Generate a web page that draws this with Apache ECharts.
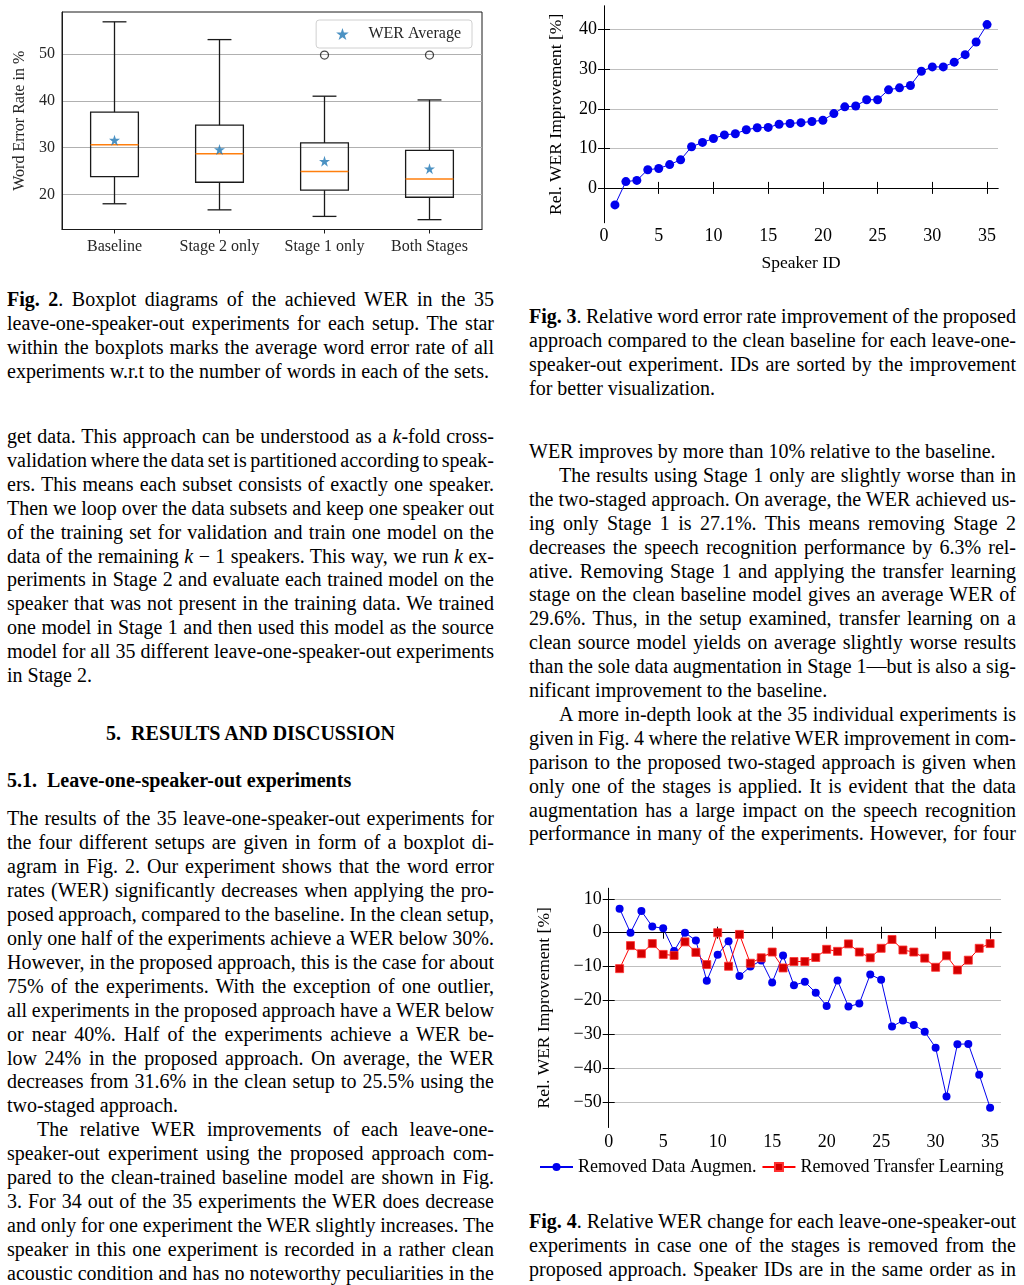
<!DOCTYPE html>
<html>
<head>
<meta charset="utf-8">
<script src="https://cdn.jsdelivr.net/npm/echarts@6/dist/echarts.min.js"></script>
<style>
html, body { margin: 0; padding: 0; background: #fff; }
#page {
  position: relative; width: 1024px; height: 1285px; overflow: hidden; background: #fff;
  font-family: "Liberation Serif", "Times New Roman", serif; font-size: 20px; color: #000;
}
.ln { position: absolute; white-space: pre; line-height: 24px; }
.chart { position: absolute; }
</style>
</head>
<body>
<div id="page">
  <div id="fig2" class="chart" style="left:0;top:0;width:510px;height:270px"></div>
  <div id="fig3" class="chart" style="left:520px;top:0;width:504px;height:285px"></div>
  <div id="fig4" class="chart" style="left:520px;top:880px;width:504px;height:305px"></div>
</div>
<script>
// ---- Fig. 2 data (boxplot of WER per setup) ----
var setups = ['Baseline', 'Stage 2 only', 'Stage 1 only', 'Both Stages'];
var werLow = [18.0, 16.7, 15.3, 14.6];
var werQ1 = [23.8, 22.6, 20.9, 19.4];
var werMedian = [30.6, 28.7, 24.9, 23.3];
var werQ3 = [37.6, 34.8, 31.0, 29.4];
var werHigh = [56.9, 53.1, 41.0, 40.2];
var werMean = [31.6, 29.6, 27.1, 25.5];
var outlierSetup = ['Stage 1 only', 'Both Stages'];
var outlierWer = [49.8, 49.8];
var werTicks = [20, 30, 40, 50];

// ---- Fig. 3 / Fig. 4 data ----
var speakerIds = [1, 2, 3, 4, 5, 6, 7, 8, 9, 10, 11, 12, 13, 14, 15, 16, 17, 18,
  19, 20, 21, 22, 23, 24, 25, 26, 27, 28, 29, 30, 31, 32, 33, 34, 35];
var relImprovement = [-4.3, 1.6, 1.9, 4.6, 4.9, 5.9, 7.1, 10.4, 11.5, 12.5, 13.4, 13.7,
  14.7, 15.2, 15.3, 16.1, 16.3, 16.5, 16.8, 17.1, 18.8, 20.5, 20.7, 22.3, 22.3, 24.8,
  25.3, 25.9, 29.5, 30.6, 30.6, 31.8, 33.7, 36.9, 41.3];
var removedAugmen = [7.1, 0.0, 6.4, 1.8, 1.3, -5.4, 0.0, -2.3, -14.2, -6.5, -2.5, -12.8,
  -10.0, -8.2, -14.7, -6.7, -15.5, -14.5, -17.7, -21.6, -14.1, -21.8, -20.9, -12.3,
  -13.9, -27.7, -25.9, -27.2, -29.2, -33.9, -48.3, -32.9, -32.8, -41.9, -51.6];
var removedTransfer = [-10.6, -3.8, -6.2, -3.2, -6.4, -6.7, -2.7, -5.8, -9.4, 0.0, -9.9,
  -0.5, -9.0, -7.4, -5.7, -10.4, -8.5, -8.5, -7.3, -4.9, -5.5, -3.3, -5.7, -7.4, -4.6,
  -2.0, -5.1, -5.7, -7.5, -10.2, -6.8, -11.0, -8.1, -4.6, -3.2];
var speakerTicks = [0, 5, 10, 15, 20, 25, 30, 35];
var improvTicks = [0, 10, 20, 30, 40];
var changeTicks = [-50, -40, -30, -20, -10, 0, 10];

var SERIF = '"Liberation Serif", "Times New Roman", serif';
var STAR = 'path://M50,0 L61.2,34.5 L97.6,34.5 L68.2,55.9 L79.4,90.5 L50,69.1 L20.6,90.5 L31.8,55.9 L2.4,34.5 L38.8,34.5 Z';

function minusFmt(v) {
  return v < 0 ? '\u2212' + (-v) : String(v);
}

// ---------- Fig. 2 ----------
function renderBox(params, api) {
  var i = api.value(0);
  var w = api.size([1, 0])[0] * 0.455;
  var pLow = api.coord([i, api.value(1)]);
  var pQ1 = api.coord([i, api.value(2)]);
  var pMed = api.coord([i, api.value(3)]);
  var pQ3 = api.coord([i, api.value(4)]);
  var pHigh = api.coord([i, api.value(5)]);
  var x = pQ1[0];
  var ink = { stroke: '#1a1a1a', lineWidth: 1.3 };
  return {
    type: 'group',
    children: [
      { type: 'line', shape: { x1: x, y1: pLow[1], x2: x, y2: pQ1[1] }, style: ink },
      { type: 'line', shape: { x1: x, y1: pQ3[1], x2: x, y2: pHigh[1] }, style: ink },
      { type: 'line', shape: { x1: x - w / 4, y1: pLow[1], x2: x + w / 4, y2: pLow[1] }, style: ink },
      { type: 'line', shape: { x1: x - w / 4, y1: pHigh[1], x2: x + w / 4, y2: pHigh[1] }, style: ink },
      { type: 'rect', shape: { x: x - w / 2, y: pQ3[1], width: w, height: pQ1[1] - pQ3[1] },
        style: { fill: 'none', stroke: '#1a1a1a', lineWidth: 1.3 } },
      { type: 'line', shape: { x1: x - w / 2, y1: pMed[1], x2: x + w / 2, y2: pMed[1] },
        style: { stroke: '#ff7f0e', lineWidth: 1.5 } }
    ]
  };
}

var mplText = { fontFamily: SERIF, fontSize: 16, color: '#262626' };
var fig2 = echarts.init(document.getElementById('fig2'));
fig2.setOption({
  animation: false,
  grid: { left: 62, top: 12, width: 420, height: 217.5, show: true, borderColor: '#1a1a1a', borderWidth: 1 },
  legend: {
    right: 38, top: 20,
    padding: [6, 11, 6, 20],
    borderColor: '#d0d0d0', borderWidth: 1, borderRadius: 3,
    itemWidth: 30, itemHeight: 12,
    textStyle: { fontFamily: SERIF, fontSize: 16, color: '#262626', padding: [0, 0, 0, 6] },
    data: ['WER Average']
  },
  xAxis: {
    type: 'category', data: setups,
    axisLine: { show: true, lineStyle: { color: '#1a1a1a' } },
    axisTick: { show: true, alignWithLabel: true, length: 4, lineStyle: { color: '#1a1a1a' } },
    axisLabel: Object.assign({ margin: 9 }, mplText),
    splitLine: { show: false }
  },
  yAxis: {
    type: 'value', min: 12.5, max: 59,
    name: 'Word Error Rate in %', nameLocation: 'middle', nameGap: 32,
    nameTextStyle: mplText,
    axisLine: { show: true, lineStyle: { color: '#1a1a1a' } },
    axisTick: { show: false, customValues: werTicks },
    axisLabel: Object.assign({ margin: 7, customValues: werTicks }, mplText),
    splitLine: { show: true, lineStyle: { color: '#b0b0b0', width: 1 } }
  },
  series: [
    {
      type: 'custom', name: 'box',
      renderItem: renderBox,
      encode: { x: 0, y: [1, 2, 3, 4, 5] },
      data: setups.map(function (s, i) {
        return [i, werLow[i], werQ1[i], werMedian[i], werQ3[i], werHigh[i]];
      }),
      z: 2
    },
    {
      type: 'scatter', name: 'outliers',
      symbol: 'circle', symbolSize: 8,
      itemStyle: { color: 'rgba(255,255,255,0)', borderColor: '#1a1a1a', borderWidth: 1.3 },
      data: outlierSetup.map(function (s, i) { return [setups.indexOf(s), outlierWer[i]]; }),
      z: 3
    },
    {
      type: 'scatter', name: 'WER Average',
      symbol: STAR, symbolSize: 11,
      itemStyle: { color: '#1f77b4' },
      data: setups.map(function (s, i) { return [i, werMean[i]]; }),
      z: 4
    }
  ]
});

// ---------- shared pgfplots-like axes ----------
function pgfAxes(opts) {
  var tickStyle = { color: '#000', width: 1 };
  var text = { fontFamily: SERIF, fontSize: 18, color: '#000' };
  var nameStyle = { fontFamily: SERIF, fontSize: 17.5, color: '#000' };
  var xBase = {
    type: 'value', min: opts.xMin, max: opts.xMax,
    axisLine: { show: true, lineStyle: { color: '#000' } },
    axisTick: { show: true, inside: true, length: 6, customValues: opts.xTicks, lineStyle: tickStyle },
    splitLine: { show: false }
  };
  var yBase = {
    type: 'value', min: opts.yMin, max: opts.yMax,
    axisLine: { show: true, lineStyle: { color: '#000' } },
    axisTick: { show: true, inside: true, length: 6, customValues: opts.yTicks, lineStyle: tickStyle }
  };
  var xAxis = [
    Object.assign({}, xBase, {
      position: 'bottom',
      axisLabel: Object.assign({ customValues: opts.xTicks, margin: opts.xMargin, formatter: minusFmt }, text),
      name: opts.xName || '', nameLocation: 'middle', nameGap: opts.xNameGap || 30,
      nameTextStyle: nameStyle
    }),
    Object.assign({}, xBase, { position: 'top', axisLabel: { show: false } })
  ];
  var yAxis = [
    Object.assign({}, yBase, {
      position: 'left',
      axisLabel: Object.assign({ customValues: opts.yTicks, margin: 7, formatter: minusFmt }, text),
      splitLine: { show: true, lineStyle: { color: '#bfbfbf', width: 1 } },
      name: opts.yName, nameLocation: 'middle', nameGap: opts.yNameGap,
      nameTextStyle: nameStyle
    }),
    Object.assign({}, yBase, { position: 'right', axisLabel: { show: false }, splitLine: { show: false } })
  ];
  return { xAxis: xAxis, yAxis: yAxis };
}

// ---------- Fig. 3 ----------
var ax3 = pgfAxes({
  xMin: 0, xMax: 36, yMin: -8.8, yMax: 46,
  xTicks: speakerTicks, yTicks: improvTicks, xMargin: 5,
  xName: 'Speaker ID', xNameGap: 32,
  yName: 'Rel. WER Improvement [%]', yNameGap: 39
});
var fig3 = echarts.init(document.getElementById('fig3'));
fig3.setOption({
  animation: false,
  grid: { left: 84, top: 6, width: 394, height: 216.7 },
  xAxis: ax3.xAxis,
  yAxis: ax3.yAxis,
  series: [{
    type: 'line', name: 'Rel. WER Improvement',
    xAxisIndex: 0, yAxisIndex: 0,
    symbol: 'circle', symbolSize: 9, showAllSymbol: true,
    lineStyle: { color: '#0000ee', width: 1 },
    itemStyle: { color: '#0000ee' },
    data: speakerIds.map(function (id, i) { return [id, relImprovement[i]]; })
  }]
});

// ---------- Fig. 4 ----------
var ax4 = pgfAxes({
  xMin: 0, xMax: 36, yMin: -57.4, yMax: 13.1,
  xTicks: speakerTicks, yTicks: changeTicks, xMargin: 5.5,
  yName: 'Rel. WER Improvement [%]', yNameGap: 55
});
var fig4 = echarts.init(document.getElementById('fig4'));
fig4.setOption({
  animation: false,
  grid: { left: 88.7, top: 8.3, width: 392.3, height: 239 },
  legend: {
    left: 14, top: 273, itemGap: 5, itemWidth: 33, itemHeight: 10,
    textStyle: { fontFamily: SERIF, fontSize: 18, color: '#000' },
    data: ['Removed Data Augmen.', 'Removed Transfer Learning']
  },
  xAxis: ax4.xAxis,
  yAxis: ax4.yAxis,
  series: [
    {
      type: 'line', name: 'Removed Data Augmen.',
      xAxisIndex: 0, yAxisIndex: 0,
      symbol: 'circle', symbolSize: 8, showAllSymbol: true,
      lineStyle: { color: '#0000ee', width: 1 },
      itemStyle: { color: '#0000ee' },
      data: speakerIds.map(function (id, i) { return [id, removedAugmen[i]]; })
    },
    {
      type: 'line', name: 'Removed Transfer Learning',
      xAxisIndex: 0, yAxisIndex: 0,
      symbol: 'rect', symbolSize: 8, showAllSymbol: true,
      lineStyle: { color: '#ff0000', width: 1 },
      itemStyle: { color: '#d40000', borderColor: '#ff3030', borderWidth: 0.8 },
      data: speakerIds.map(function (id, i) { return [id, removedTransfer[i]]; })
    }
  ]
});

// ---------- page text ----------
// '^' = indented first line, '$' = last line of a paragraph (not justified)
var captionFig2 = [
  '<b>Fig. 2</b>.  Boxplot diagrams of the achieved WER in the 35',
  'leave-one-speaker-out experiments for each setup.  The star',
  'within the boxplots marks the average word error rate of all',
  'experiments w.r.t to the number of words in each of the sets.$'
];
var leftPara1 = [
  'get data. This approach can be understood as a <i>k</i>-fold cross-',
  'validation where the data set is partitioned according to speak-',
  'ers. This means each subset consists of exactly one speaker.',
  'Then we loop over the data subsets and keep one speaker out',
  'of the training set for validation and train one model on the',
  'data of the remaining <i>k</i> \u2212 1 speakers. This way, we run <i>k</i> ex-',
  'periments in Stage 2 and evaluate each trained model on the',
  'speaker that was not present in the training data.  We trained',
  'one model in Stage 1 and then used this model as the source',
  'model for all 35 different leave-one-speaker-out experiments',
  'in Stage 2.$'
];
var leftPara2 = [
  'The results of the 35 leave-one-speaker-out experiments for',
  'the four different setups are given in form of a boxplot di-',
  'agram in Fig. 2.  Our experiment shows that the word error',
  'rates (WER) significantly decreases when applying the pro-',
  'posed approach, compared to the baseline. In the clean setup,',
  'only one half of the experiments achieve a WER below 30%.',
  'However, in the proposed approach, this is the case for about',
  '75% of the experiments.  With the exception of one outlier,',
  'all experiments in the proposed approach have a WER below',
  'or near 40%.  Half of the experiments achieve a WER be-',
  'low 24% in the proposed approach.  On average, the WER',
  'decreases from 31.6% in the clean setup to 25.5% using the',
  'two-staged approach.$',
  '^The relative WER improvements of each leave-one-',
  'speaker-out experiment using the proposed approach com-',
  'pared to the clean-trained baseline model are shown in Fig.',
  '3.  For 34 out of the 35 experiments the WER does decrease',
  'and only for one experiment the WER slightly increases. The',
  'speaker in this one experiment is recorded in a rather clean',
  'acoustic condition and has no noteworthy peculiarities in the'
];
var captionFig3 = [
  '<b>Fig. 3</b>. Relative word error rate improvement of the proposed',
  'approach compared to the clean baseline for each leave-one-',
  'speaker-out experiment.  IDs are sorted by the improvement',
  'for better visualization.$'
];
var rightPara = [
  'WER improves by more than 10% relative to the baseline.$',
  '^The results using Stage 1 only are slightly worse than in',
  'the two-staged approach. On average, the WER achieved us-',
  'ing only Stage 1 is 27.1%.  This means removing Stage 2',
  'decreases the speech recognition performance by 6.3% rel-',
  'ative.  Removing Stage 1 and applying the transfer learning',
  'stage on the clean baseline model gives an average WER of',
  '29.6%.  Thus, in the setup examined, transfer learning on a',
  'clean source model yields on average slightly worse results',
  'than the sole data augmentation in Stage 1\u2014but is also a sig-',
  'nificant improvement to the baseline.$',
  '^A more in-depth look at the 35 individual experiments is',
  'given in Fig. 4 where the relative WER improvement in com-',
  'parison to the proposed two-staged approach is given when',
  'only one of the stages is applied.  It is evident that the data',
  'augmentation has a large impact on the speech recognition',
  'performance in many of the experiments. However, for four'
];
var captionFig4 = [
  '<b>Fig. 4</b>. Relative WER change for each leave-one-speaker-out',
  'experiments in case one of the stages is removed from the',
  'proposed approach.  Speaker IDs are in the same order as in'
];

var page = document.getElementById('page');
var justified = [];

function setLines(x, w, y0, step, lines) {
  lines.forEach(function (raw, i) {
    var indent = raw.charAt(0) === '^' ? 30 : 0;
    var last = raw.slice(-1) === '$';
    var html = raw.replace(/^\^/, '').replace(/\$$/, '').replace(/ {2,}/g, ' ');
    var d = document.createElement('div');
    d.className = 'ln';
    d.style.left = (x + indent) + 'px';
    d.style.top = Math.round(y0 + i * step - 12) + 'px';
    d.innerHTML = html;
    page.appendChild(d);
    if (!last) justified.push({ el: d, width: w - indent });
  });
}

function heading(x, w, y, html, align) {
  var d = document.createElement('div');
  d.className = 'ln';
  d.style.left = x + 'px';
  d.style.width = w + 'px';
  d.style.top = (y - 12) + 'px';
  d.style.fontWeight = 'bold';
  d.style.textAlign = align;
  d.innerHTML = html;
  page.appendChild(d);
}

function justifyAll() {
  justified.forEach(function (j) {
    j.el.style.wordSpacing = '0px';
    var natural = j.el.getBoundingClientRect().width;
    var spaces = (j.el.textContent.match(/ /g) || []).length;
    if (spaces > 0) j.el.style.wordSpacing = ((j.width - natural) / spaces) + 'px';
  });
}

setLines(7, 487, 299, 24, captionFig2);
setLines(7, 487, 436, 23.9, leftPara1);
heading(7, 487, 733, '5.  RESULTS AND DISCUSSION', 'center');
heading(7, 487, 780, '5.1.  Leave-one-speaker-out experiments', 'left');
setLines(7, 487, 818, 23.95, leftPara2);
setLines(529, 487, 316, 24, captionFig3);
setLines(529, 487, 451, 23.9, rightPara);
setLines(529, 487, 1221, 24, captionFig4);
justifyAll();
if (document.fonts && document.fonts.ready) document.fonts.ready.then(justifyAll);
</script>
</body>
</html>
